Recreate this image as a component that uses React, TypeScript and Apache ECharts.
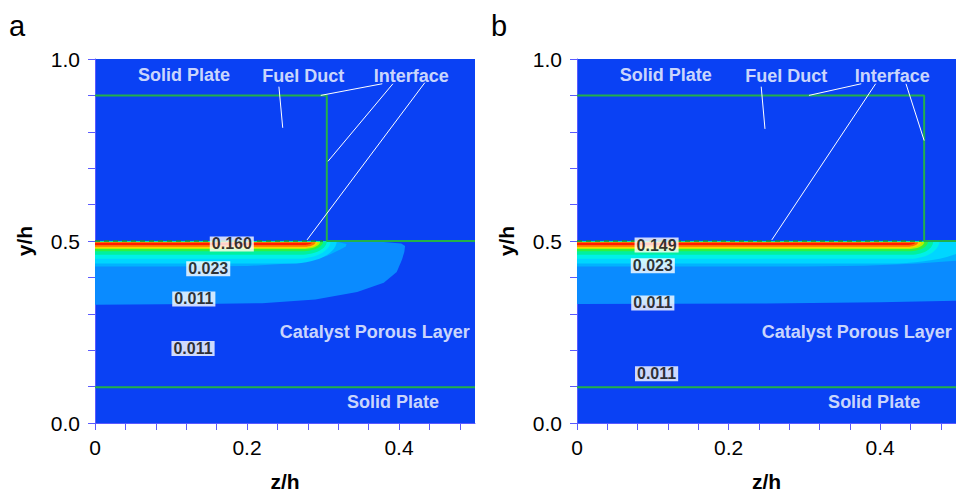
import React, { useEffect, useRef } from 'react';
import * as echarts from 'echarts';

const FONT = '"Liberation Sans", Arial, Helvetica, sans-serif';

// ---- axis tick labels ----
const xLabelValues = [0, 0.2, 0.4];
const xLabelTexts = ['0', '0.2', '0.4'];
const yLabelValues = [0, 0.5, 1.0];
const yLabelTexts = ['0.0', '0.5', '1.0'];

// ---- panel a: contour outlines [z/h, y/h] (outer -> inner) ----
const bandA1 = [
  [0, 0.5], [0.3, 0.5], [0.38, 0.497], [0.403, 0.493], [0.408, 0.486],
  [0.407, 0.47], [0.404, 0.449], [0.397, 0.415], [0.38, 0.385], [0.345, 0.36],
  [0.29, 0.339], [0.22, 0.329], [0.138, 0.327], [0, 0.325],
];
const bandA2 = [
  [0, 0.5], [0.28, 0.5], [0.32, 0.497], [0.331, 0.492], [0.33, 0.485],
  [0.322, 0.476], [0.305, 0.459], [0.27, 0.44], [0.2, 0.431], [0.1, 0.43], [0, 0.43],
];
// inner thin bands: [top y, bottom y, tip z, cap length]
const innerA = [
  [0.5, 0.438, 0.318, 0.06],
  [0.4995, 0.451, 0.31, 0.045],
  [0.499, 0.462, 0.305, 0.035],
  [0.498, 0.472, 0.3, 0.028],
  [0.4975, 0.478, 0.296, 0.022],
  [0.497, 0.481, 0.293, 0.018],
  [0.4965, 0.484, 0.29, 0.015],
  [0.495, 0.489, 0.285, 0.012],
];

// ---- panel b ----
const bandB1 = [
  [0, 0.5], [0.6, 0.5], [0.6, 0.34], [0.5, 0.336], [0.4, 0.332], [0.25, 0.328], [0, 0.327],
];
const bandB2 = [
  [0, 0.5], [0.6, 0.5], [0.6, 0.46], [0.5, 0.446], [0.45, 0.438], [0.38, 0.432], [0.3, 0.43], [0, 0.43],
];
const innerB = [
  [0.5, 0.438, 0.52, 0.11],
  [0.4995, 0.451, 0.478, 0.04],
  [0.499, 0.462, 0.47, 0.03],
  [0.498, 0.472, 0.463, 0.025],
  [0.4975, 0.478, 0.458, 0.02],
  [0.497, 0.481, 0.454, 0.018],
  [0.4965, 0.484, 0.45, 0.015],
  [0.495, 0.489, 0.446, 0.012],
];

// ---- domain boundaries ----
const ductA = [[0, 0.9], [0.305, 0.9], [0.305, 0.5], [0.5, 0.5]];
const ductB = [[0, 0.9], [0.458, 0.9], [0.458, 0.5], [0.5, 0.5]];
const plateLine = [[0, 0.098], [0.5, 0.098]];
const interfaceDashA = [[0, 0.5], [0.3, 0.5]];
const interfaceDashB = [[0, 0.5], [0.455, 0.5]];

// ---- leader lines ----
const leadersA = [
  [[0.378, 0.932], [0.297, 0.9]],
  [[0.392, 0.932], [0.3066, 0.719]],
  [[0.434, 0.935], [0.279, 0.503]],
  [[0.242, 0.924], [0.247, 0.811]],
];
const leadersB = [
  [[0.375, 0.932], [0.306, 0.9]],
  [[0.394, 0.932], [0.257, 0.503]],
  [[0.434, 0.932], [0.458, 0.776]],
  [[0.243, 0.924], [0.248, 0.808]],
];

// ---- region names ----
const regionNames = ['Solid Plate', 'Fuel Duct', 'Interface', 'Catalyst Porous Layer', 'Solid Plate'];
const regionPosA = [[0.117, 0.957], [0.274, 0.954], [0.416, 0.954], [0.368, 0.251], [0.392, 0.057]];
const regionPosB = [[0.117, 0.957], [0.276, 0.954], [0.416, 0.954], [0.369, 0.251], [0.392, 0.057]];

// ---- contour value labels ----
const valueTextsA = ['0.160', '0.023', '0.011', '0.011'];
const valuePosA = [[0.18, 0.492], [0.149, 0.424], [0.13, 0.341], [0.129, 0.205]];
const valueTextsB = ['0.149', '0.023', '0.011', '0.011'];
const valuePosB = [[0.105, 0.489], [0.1, 0.432], [0.1, 0.33], [0.105, 0.135]];

// ---- styles ----
const BG = '#0a41f4';
const bandColors = [
  '#0a8bff', '#00b2ff', '#00d6ff', '#00f0e8', '#00f0a0',
  '#30f040', '#b8f000', '#ffd000', '#ff7000', '#ff1a00',
];
const AXIS_BLUE = '#5a5aff';
const GREEN = '#22b04a';

function capShape(b: number[]) {
  const [yt, yb, zt, rz] = b;
  const pts: number[][] = [[0, yt], [zt, yt]];
  const n = 14;
  for (let k = 1; k <= n; k++) {
    const th = (-k * Math.PI) / 2 / n;
    pts.push([zt - rz + rz * Math.cos(th), yt + (yt - yb) * Math.sin(th)]);
  }
  pts.push([0, yb]);
  return pts;
}

function bandSeries(idx: number, shapes: number[][][]) {
  return {
    type: 'custom',
    xAxisIndex: idx,
    yAxisIndex: idx,
    clip: true,
    silent: true,
    z: 1,
    data: shapes.map((_, i) => [i]),
    renderItem: (params: any, api: any) => {
      const i = params.dataIndex;
      const pts = shapes[i].map((p) => api.coord(p));
      return {
        type: 'polygon',
        shape: { points: pts },
        style: { fill: bandColors[i], stroke: null },
      };
    },
  };
}

function lineSeries(idx: number, data: number[][], color: string, width: number, type: any = 'solid', z = 3) {
  return {
    type: 'line',
    xAxisIndex: idx,
    yAxisIndex: idx,
    data,
    symbol: 'none',
    silent: true,
    animation: false,
    z,
    lineStyle: { color, width, type },
  };
}

function textSeries(idx: number, names: string[], pos: number[][], boxed: boolean) {
  return {
    type: 'scatter',
    xAxisIndex: idx,
    yAxisIndex: idx,
    symbolSize: 0,
    silent: true,
    z: 6,
    data: names.map((n, i) => ({ name: n, value: pos[i] })),
    label: boxed
      ? {
          show: true,
          position: 'inside',
          formatter: '{b}',
          color: '#000',
          fontFamily: FONT,
          fontWeight: 'bold',
          fontSize: 16,
          backgroundColor: '#ffffff',
          padding: [0, 2, 0, 2],
          lineHeight: 15,
        }
      : {
          show: true,
          position: 'inside',
          formatter: '{b}',
          color: '#ffffff',
          fontFamily: FONT,
          fontWeight: 'bold',
          fontSize: 18,
        },
  };
}

function xAxis(idx: number) {
  return {
    type: 'value',
    gridIndex: idx,
    min: 0,
    max: 0.5,
    interval: 0.04,
    name: 'z/h',
    nameLocation: 'middle',
    nameGap: 48,
    nameTextStyle: { fontFamily: FONT, fontWeight: 'bold', fontSize: 21, color: '#000' },
    axisLine: { show: true, lineStyle: { color: AXIS_BLUE, width: 1 } },
    axisTick: { show: true, length: 7, lineStyle: { color: AXIS_BLUE, width: 1 } },
    splitLine: { show: false },
    axisLabel: {
      fontFamily: FONT,
      fontSize: 21,
      color: '#000',
      margin: 14,
      showMaxLabel: false,
      formatter: (v: number) => {
        const i = xLabelValues.findIndex((t) => Math.abs(t - v) < 1e-6);
        return i >= 0 ? xLabelTexts[i] : '';
      },
    },
  };
}

function yAxis(idx: number) {
  return {
    type: 'value',
    gridIndex: idx,
    min: 0,
    max: 1,
    interval: 0.1,
    name: 'y/h',
    nameLocation: 'middle',
    nameGap: 60,
    nameTextStyle: { fontFamily: FONT, fontWeight: 'bold', fontSize: 21, color: '#000' },
    axisLine: { show: true, lineStyle: { color: AXIS_BLUE, width: 1 } },
    axisTick: { show: true, length: 7, lineStyle: { color: AXIS_BLUE, width: 1 } },
    splitLine: { show: false },
    axisLabel: {
      fontFamily: FONT,
      fontSize: 21,
      color: '#000',
      margin: 15,
      formatter: (v: number) => {
        const i = yLabelValues.findIndex((t) => Math.abs(t - v) < 1e-6);
        return i >= 0 ? yLabelTexts[i] : '';
      },
    },
  };
}

export default function App() {
  const ref = useRef<HTMLDivElement>(null);
  useEffect(() => {
    if (!ref.current) return;
    const chart = echarts.init(ref.current, undefined, { renderer: 'svg' });
    const shapesA = [bandA1, bandA2, ...innerA.map(capShape)];
    const shapesB = [bandB1, bandB2, ...innerB.map(capShape)];
    const series: any[] = [
      bandSeries(0, shapesA),
      bandSeries(1, shapesB),
      lineSeries(0, ductA, GREEN, 2),
      lineSeries(1, ductB, GREEN, 2),
      lineSeries(0, plateLine, GREEN, 2),
      lineSeries(1, plateLine, GREEN, 2),
      lineSeries(0, interfaceDashA, '#1a8f36', 1.5, [5, 4]),
      lineSeries(1, interfaceDashB, '#1a8f36', 1.5, [5, 4]),
      ...leadersA.map((l) => lineSeries(0, l, '#ffffff', 1, 'solid', 4)),
      ...leadersB.map((l) => lineSeries(1, l, '#ffffff', 1, 'solid', 4)),
      textSeries(0, regionNames, regionPosA, false),
      textSeries(1, regionNames, regionPosB, false),
      textSeries(0, valueTextsA, valuePosA, true),
      textSeries(1, valueTextsB, valuePosB, true),
    ];
    chart.setOption({
      animation: false,
      backgroundColor: '#ffffff',
      grid: [
        { left: 95, top: 59, width: 380, height: 370, show: true, backgroundColor: BG, borderWidth: 0 },
        { left: 577, top: 59, width: 381, height: 370, show: true, backgroundColor: BG, borderWidth: 0 },
      ],
      xAxis: [xAxis(0), xAxis(1)],
      yAxis: [yAxis(0), yAxis(1)],
      graphic: [
        { type: 'text', left: 9, top: 11, style: { text: 'a', fontSize: 29, fontFamily: FONT, fill: '#000' } },
        { type: 'text', left: 491, top: 11, style: { text: 'b', fontSize: 29, fontFamily: FONT, fill: '#000' } },
      ],
      series,
    });
    return () => chart.dispose();
  }, []);
  return (
    <div
      ref={ref}
      style={{ position: 'fixed', left: 0, top: 0, width: 956, height: 497, background: '#fff' }}
    />
  );
}
